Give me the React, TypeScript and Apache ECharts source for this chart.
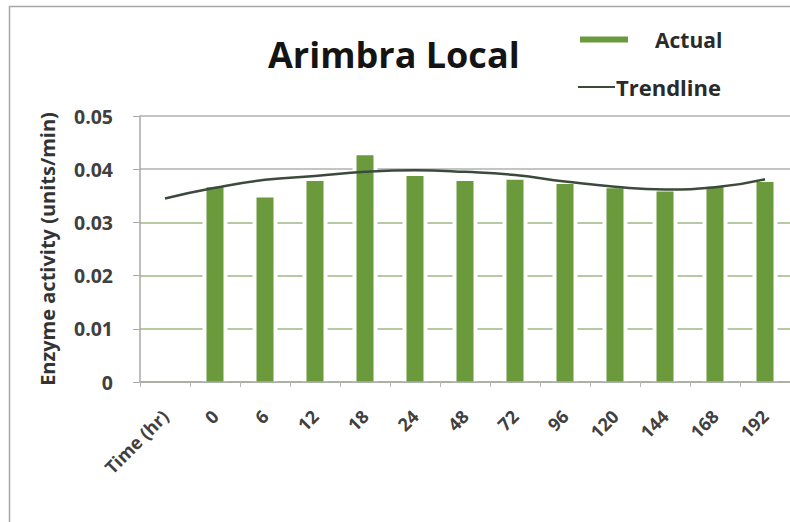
import React, { useEffect, useRef } from "react";
import * as echarts from "echarts";

// Sampling times (first slot holds the axis caption, no measurement there)
const categories = ["Time (hr)", "0", "6", "12", "18", "24", "48", "72", "96", "120", "144", "168", "192"];
// Measured enzyme activity (units/min)
const actual: (number | null)[] = [null, 0.0366, 0.0347, 0.0378, 0.0426, 0.0387, 0.0378, 0.038, 0.0372, 0.0364, 0.0358, 0.0367, 0.0376];
// Fitted trend through the measurements
const trend = [0.0345, 0.0365, 0.038, 0.0387, 0.0395, 0.0398, 0.0395, 0.0389, 0.0377, 0.0367, 0.0362, 0.0366, 0.0381];
const yTicks = { min: 0, max: 0.05, interval: 0.01 };

const FONT = "'Open Sans', Lato, sans-serif";

export default function App() {
  const ref = useRef<HTMLDivElement>(null);

  useEffect(() => {
    document.body.style.margin = "0";
    const chart = echarts.init(ref.current!, null, { renderer: "svg" });
    chart.setOption({
      animation: false,
      backgroundColor: "#ffffff",
      title: {
        text: "Arimbra Local",
        left: 268,
        top: 36,
        padding: 0,
        textStyle: { fontFamily: FONT, fontSize: 36, fontWeight: "bold", color: "#141414" },
      },
      legend: [
        {
          data: [{ name: "Actual", icon: "rect" }],
          left: 580,
          top: 29,
          padding: 0,
          itemWidth: 48,
          itemHeight: 6,
          textStyle: { fontFamily: FONT, fontSize: 21, fontWeight: "bold", color: "#2a2a2a", padding: [0, 0, 0, 22] },
        },
        {
          data: [{ name: "Trendline", icon: "rect" }],
          left: 578,
          top: 76,
          padding: 0,
          itemWidth: 37,
          itemHeight: 2,
          itemGap: 0,
          textStyle: { fontFamily: FONT, fontSize: 22, fontWeight: "bold", color: "#2a2a2a", padding: [0, 0, 0, -4] },
        },
      ],
      graphic: [
        {
          type: "rect",
          shape: { x: 9.5, y: 6.5, width: 820, height: 540 },
          style: { fill: "none", stroke: "#a8a8a8", lineWidth: 1.5 },
          silent: true,
        },
      ],
      grid: { left: 140, top: 116, right: 0, bottom: 140, containLabel: false },
      xAxis: [
        {
          type: "category",
          data: categories,
          boundaryGap: true,
          z: 5,
          axisLine: { show: true, lineStyle: { color: "#a8a8a8", width: 1.5 } },
          axisTick: { show: true, length: 5, lineStyle: { color: "#b8b8b8" } },
          axisLabel: {
            interval: 0,
            rotate: 45,
            margin: 31,
            fontFamily: FONT,
            fontSize: 18,
            fontWeight: "bold",
            color: "#404040",
          },
          splitLine: { show: false },
        },
        {
          // hidden twin axis that carries the white rims behind the columns
          type: "category",
          data: categories,
          boundaryGap: true,
          show: false,
          position: "bottom",
        },
      ],
      yAxis: {
        type: "value",
        min: yTicks.min,
        max: yTicks.max,
        interval: yTicks.interval,
        name: "Enzyme activity (units/min)",
        nameLocation: "middle",
        nameGap: 83,
        nameTextStyle: { fontFamily: FONT, fontSize: 20, fontWeight: "bold", color: "#333333" },
        axisLine: { show: true, lineStyle: { color: "#a8a8a8", width: 1.5 } },
        axisTick: { show: true, inside: false, length: 7, lineStyle: { color: "#a8a8a8" } },
        axisLabel: {
          margin: 27,
          fontFamily: FONT,
          fontSize: 19.5,
          fontWeight: "bold",
          color: "#404040",
          formatter: (v: number) => (v === 0 ? "0" : v.toFixed(2)),
        },
        splitLine: {
          show: true,
          lineStyle: {
            color: ["#9cb884", "#9cb884", "#9cb884", "#9cb884", "#b0b0b0", "#b0b0b0"],
            width: 1.6,
          },
        },
      },
      series: [
        {
          name: "rim",
          type: "bar",
          xAxisIndex: 1,
          data: actual,
          barWidth: 25,
          itemStyle: { color: "#ffffff" },
          silent: true,
          z: 1,
        },
        {
          name: "Actual",
          type: "bar",
          xAxisIndex: 0,
          data: actual,
          barWidth: 17,
          itemStyle: { color: "#6b9a3d" },
          z: 2,
        },
        {
          name: "Trendline",
          type: "line",
          data: trend,
          smooth: 0.5,
          symbol: "none",
          lineStyle: { color: "#3b4a3b", width: 2.5 },
          itemStyle: { color: "#3b4a3b" },
          z: 3,
        },
      ],
    });
    return () => chart.dispose();
  }, []);

  return <div ref={ref} style={{ width: 790, height: 522 }} />;
}
